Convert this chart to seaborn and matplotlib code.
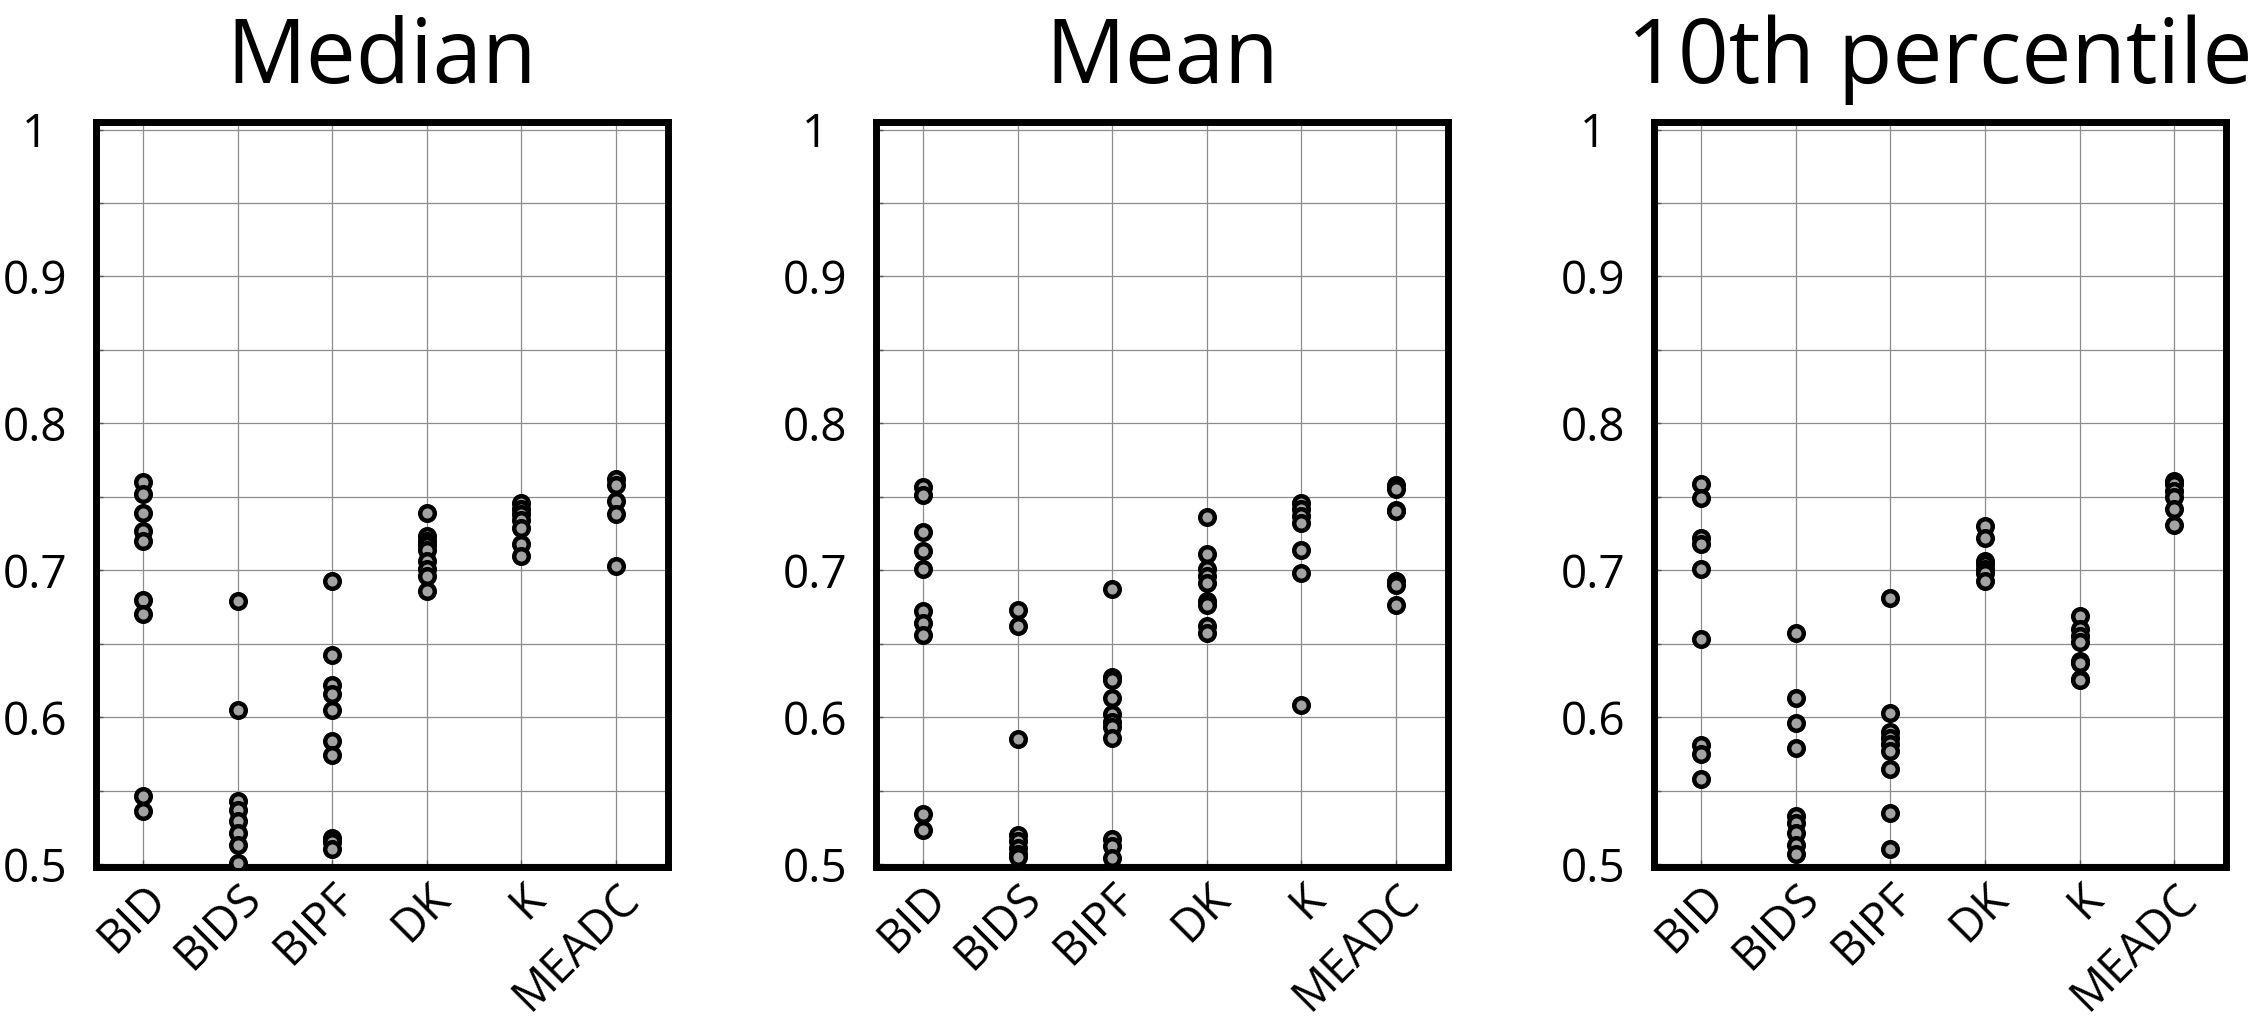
import pandas as pd
import seaborn as sns
import matplotlib.pyplot as plt

# Categories and panel titles
methods = ['BID', 'BIDS', 'BIPF', 'DK', 'K', 'MEADC']
titles = ['Median', 'Mean', '10th percentile']

# Values, one list per method (order as in `methods`)
median_values = [
    [0.760, 0.752, 0.739, 0.727, 0.720, 0.680, 0.670, 0.546, 0.536],
    [0.679, 0.605, 0.543, 0.537, 0.529, 0.521, 0.513, 0.501],
    [0.693, 0.642, 0.622, 0.616, 0.605, 0.584, 0.574, 0.518, 0.515, 0.510],
    [0.739, 0.723, 0.720, 0.717, 0.714, 0.706, 0.701, 0.696, 0.686],
    [0.746, 0.742, 0.738, 0.734, 0.729, 0.718, 0.710],
    [0.762, 0.758, 0.747, 0.738, 0.703],
]
mean_values = [
    [0.757, 0.751, 0.726, 0.713, 0.701, 0.672, 0.664, 0.656, 0.534, 0.523],
    [0.673, 0.662, 0.585, 0.520, 0.516, 0.511, 0.507, 0.505],
    [0.687, 0.627, 0.625, 0.613, 0.602, 0.597, 0.593, 0.586, 0.517, 0.512, 0.504],
    [0.736, 0.711, 0.701, 0.696, 0.691, 0.679, 0.676, 0.662, 0.657],
    [0.746, 0.742, 0.737, 0.732, 0.714, 0.698, 0.608],
    [0.758, 0.755, 0.741, 0.740, 0.693, 0.690, 0.676],
]
p10_values = [
    [0.759, 0.749, 0.722, 0.718, 0.701, 0.653, 0.581, 0.575, 0.558],
    [0.657, 0.613, 0.596, 0.579, 0.533, 0.528, 0.521, 0.513, 0.507],
    [0.681, 0.603, 0.590, 0.586, 0.582, 0.577, 0.565, 0.535, 0.510],
    [0.730, 0.722, 0.706, 0.704, 0.701, 0.698, 0.693],
    [0.669, 0.660, 0.655, 0.651, 0.638, 0.637, 0.626, 0.625],
    [0.761, 0.759, 0.754, 0.750, 0.742, 0.731],
]

ytick_vals = [0.5, 0.6, 0.7, 0.8, 0.9, 1.0]
ytick_labels = ['0.5', '0.6', '0.7', '0.8', '0.9', '1']

# Long table for seaborn
rows = []
for title, panel in zip(titles, [median_values, mean_values, p10_values]):
    for m, vals in zip(methods, panel):
        for v in vals:
            rows.append({'panel': title, 'method': m, 'value': v})
df = pd.DataFrame(rows)

sns.set_style('white')
plt.rcParams['font.family'] = ['Open Sans', 'DejaVu Sans']
plt.rcParams['text.color'] = 'black'
plt.rcParams['xtick.color'] = 'black'
plt.rcParams['ytick.color'] = 'black'

fig = plt.figure(figsize=(22.52, 10.16), dpi=100)
lefts = [0.0426, 0.389, 0.7345]

for left, title in zip(lefts, titles):
    ax = fig.add_axes([left, 0.1467, 0.254, 0.733])
    sub = df[df['panel'] == title]
    sns.stripplot(data=sub, x='method', y='value', order=methods, jitter=False,
                  color='#a3a3a3', edgecolor='black', linewidth=3.2, size=10.5,
                  ax=ax, zorder=3)
    ax.set_xlim(-0.5, 5.55)
    ax.set_ylim(0.498, 1.005)
    ax.set_yticks(ytick_vals)
    ax.set_yticklabels(ytick_labels)
    ax.set_yticks([0.55, 0.65, 0.75, 0.85, 0.95], minor=True)
    ax.set_axisbelow(True)
    ax.grid(True, which='both', axis='y', color='#8c8c8c', linewidth=0.9)
    ax.grid(True, which='major', axis='x', color='#8c8c8c', linewidth=0.9)
    ax.tick_params(axis='y', which='both', direction='in', length=5, width=1,
                   color='#555555', labelcolor='black', labelsize=33, pad=44,
                   left=True)
    for lab in ax.get_yticklabels():
        lab.set_horizontalalignment('center')
    ax.tick_params(axis='x', direction='in', length=5, width=1, color='#555555',
                   labelcolor='black', labelsize=33, pad=6, bottom=True)
    plt.setp(ax.get_xticklabels(), rotation=45, ha='right', va='top',
             rotation_mode='anchor')
    for sp in ax.spines.values():
        sp.set_visible(True)
        sp.set_color('black')
        sp.set_linewidth(5)
    ax.set_xlabel('')
    ax.set_ylabel('')
    ax.set_title(title, fontsize=64, pad=28, color='black')

fig.savefig('out.png', dpi=100)
